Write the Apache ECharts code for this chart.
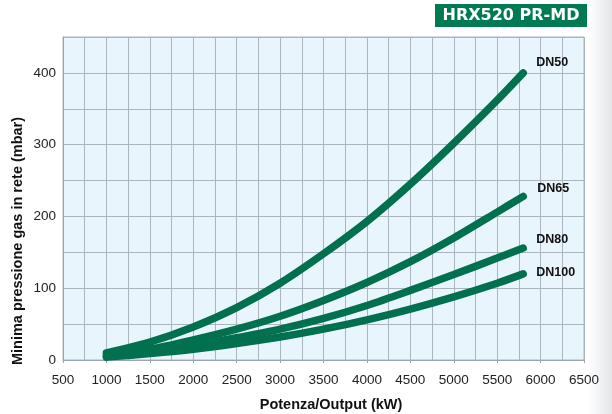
<!DOCTYPE html>
<html><head><meta charset="utf-8">
<script src="https://cdn.jsdelivr.net/npm/echarts@6/dist/echarts.min.js"></script>
<style>html,body{margin:0;padding:0;background:#fff}#c{width:612px;height:414px}</style>
</head><body><div id="c"></div>
<script>
const power = [1000,1500,2000,2500,3000,3500,4000,4500,5000,5500,5800];
const dn50  = [10, 25, 46, 73, 107, 148, 193, 245, 302, 362, 400];
const dn65  = [7, 15, 28, 43, 61, 83, 108, 137, 170, 206, 228];
const dn80  = [5, 11, 20, 31, 43, 58, 76, 97, 119, 142, 156];
const dn100 = [4, 9, 15, 23, 32, 43, 56, 71, 88, 107, 120];
const seriesNames = ['DN50','DN65','DN80','DN100'];
const seriesData = [dn50, dn65, dn80, dn100];
const labelOffsets = [[9,-10],[10,-8],[9,-8],[9,-1]];
const title = 'HRX520 PR-MD';
const xName = 'Potenza/Output (kW)';
const yName = 'Minima pressione gas in rete (mbar)';

const green = '#00704f';
const gridColor = '#aab5be';
const font = '"Liberation Sans", Arial, sans-serif';

const chart = echarts.init(document.getElementById('c'), null, {renderer:'canvas'});
chart.setOption({
  animation:false,
  textStyle:{fontFamily:font},
  graphic:[
    {type:'rect', left:588, top:0, shape:{width:24,height:414},
     style:{fill:new echarts.graphic.LinearGradient(0,0,1,0,[{offset:0,color:'#ffffff'},{offset:1,color:'#e4e6e8'}])}, z:-10},
    {type:'rect', left:435, top:4, shape:{width:152,height:23}, style:{fill:'#007a52'}},
    {type:'text', x:511, y:16, style:{text:title, fill:'#fff', font:'bold 16px "DejaVu Sans", sans-serif', textAlign:'center', textVerticalAlign:'middle'}},
    {type:'text', x:18, y:241, rotation:Math.PI/2, style:{text:yName, fill:'#111', font:'bold 14.5px '+font, textAlign:'center', textVerticalAlign:'middle'}},
    {type:'text', x:331, y:405, style:{text:xName, fill:'#111', font:'bold 14.5px '+font, textAlign:'center', textVerticalAlign:'middle'}}
  ],
  grid:{left:63, right:28, top:37, bottom:54, show:true, backgroundColor:'#e9f5fd', borderColor:gridColor, borderWidth:1},
  xAxis:{type:'value', min:500, max:6500, interval:500,
    axisLine:{show:true, lineStyle:{color:'#9aa5ae'}},
    axisTick:{show:true, length:3, lineStyle:{color:'#9aa5ae'}},
    axisLabel:{color:'#222', fontSize:13.5, margin:13, fontFamily:font, formatter:v=>String(v)},
    splitLine:{show:true, lineStyle:{color:gridColor, width:1}},
    minorTick:{show:false, splitNumber:2},
    minorSplitLine:{show:true, lineStyle:{color:gridColor, width:1}}
  },
  yAxis:{type:'value', min:0, max:450, interval:50,
    axisLine:{show:true, lineStyle:{color:'#9aa5ae'}},
    axisTick:{show:false},
    axisLabel:{color:'#222', fontSize:13.5, margin:7, fontFamily:font,
      formatter:v => (v % 100 === 0 ? String(v) : '')},
    splitLine:{show:true, lineStyle:{color:gridColor, width:1}}
  },
  series: seriesNames.map((n,i)=>({
    type:'line', name:n, smooth:0.3, symbol:'none',
    data: power.map((p,j)=>[p, seriesData[i][j]]),
    lineStyle:{color:green, width:7.5, cap:'round'},
    endLabel:{show:true, formatter:n, offset:labelOffsets[i], distance:4,
      color:'#111', fontWeight:'bold', fontSize:12.5, fontFamily:font}
  }))
});
</script></body></html>
